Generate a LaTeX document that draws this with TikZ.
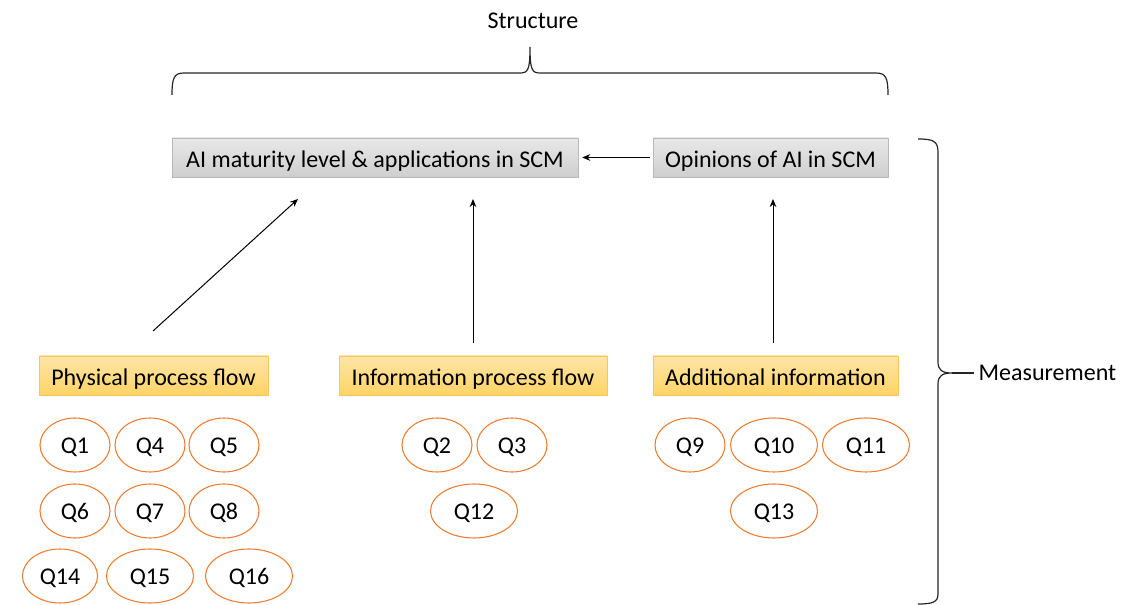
\documentclass[tikz,border=0pt]{standalone}
\usepackage{fontspec}
\setmainfont{Carlito}
\usetikzlibrary{shapes.geometric,arrows.meta}
\newcommand\pxu{0.75pt}
\definecolor{qorange}{HTML}{ED7D31}
\definecolor{boxtop}{HTML}{FFE5A6}
\definecolor{boxbot}{HTML}{FFD466}
\definecolor{boxline}{HTML}{F6C85A}
\tikzset{
  every node/.style={font=\fontsize{18}{21}\selectfont},
  greybox/.style={draw=gray!55, top color=gray!18, bottom color=gray!38,
    minimum height=39*\pxu, inner sep=0pt, text height=16pt, text depth=1pt},
  flowbox/.style={draw=boxline, top color=boxtop, bottom color=boxbot,
    minimum height=39*\pxu, inner sep=0pt, text height=16pt, text depth=1pt},
  qnode/.style={ellipse, draw=qorange, line width=0.8pt, fill=white,
    minimum width=70*\pxu, minimum height=54*\pxu, inner sep=0pt,
    text height=14pt, text depth=1pt},
  qwide/.style={qnode, minimum width=87*\pxu},
  link/.style={-{Stealth[length=6pt,width=5pt]}, line width=0.75pt},
  brace/.style={line width=0.9pt, black!85}
}
\begin{document}
\begin{tikzpicture}[x=0.75pt,y=-0.75pt]
\path[use as bounding box] (0,0) rectangle (1122,605);

% heading
\node (structure) at (533,21) {Structure};
\draw[brace] (172,95) .. controls (172,78) and (174,73) .. (184,73) -- (520,73)
  .. controls (528,73) and (530,70) .. (530,47)
  .. controls (530,70) and (532,73) .. (540,73) -- (876,73)
  .. controls (886,73) and (888,78) .. (888,95);

% constructs
\node[greybox, minimum width=406*\pxu] (maturity) at (375,157.5) {AI maturity level \& applications in SCM};
\node[greybox, minimum width=235*\pxu] (opinions) at (770.5,157.5) {Opinions of AI in SCM};

% flows
\node[flowbox, minimum width=229*\pxu] (physical) at (153.5,375.5) {Physical process flow};
\node[flowbox, minimum width=268*\pxu] (information) at (473,375.5) {Information process flow};
\node[flowbox, minimum width=245*\pxu] (additional) at (775.5,375.5) {Additional information};

% question items
\node[qnode] (q1) at (75,445) {Q1};
\node[qnode] (q4) at (150,445) {Q4};
\node[qnode] (q5) at (224,445) {Q5};
\node[qnode] (q6) at (75,511) {Q6};
\node[qnode] (q7) at (150,511) {Q7};
\node[qnode] (q8) at (224,511) {Q8};
\node[qwide, minimum width=75*\pxu] (q14) at (60,576) {Q14};
\node[qwide] (q15) at (150,576) {Q15};
\node[qwide] (q16) at (249,576) {Q16};

\node[qnode] (q2) at (437,445) {Q2};
\node[qnode] (q3) at (512,445) {Q3};
\node[qwide] (q12) at (474,511) {Q12};

\node[qnode] (q9) at (690,445) {Q9};
\node[qwide] (q10) at (774,445) {Q10};
\node[qwide] (q11) at (866,445) {Q11};
\node[qwide] (q13) at (774,511) {Q13};

% arrows
\coordinate (pstart) at (153,331);
\coordinate (pend) at (298,199);
\draw[link] (pstart) -- (pend);
\coordinate (istart) at (473,343);
\coordinate (iend) at (473,199);
\draw[link] (istart) -- (iend);
\coordinate (astart) at (773,343);
\coordinate (aend) at (773,199);
\draw[link] (astart) -- (aend);
\draw[link] ([xshift=-3*\pxu]opinions.west) -- ([xshift=4*\pxu]maturity.east);

% measurement brace
\coordinate (tip) at (952,373);
\draw[brace] (918,139) .. controls (933,139) and (938,141) .. (938,152) -- (938,362)
  .. controls (938,370) and (942,373) .. (tip)
  .. controls (942,373) and (938,376) .. (938,384) -- (938,594)
  .. controls (938,602) and (933,604) .. (918,604);
\node[anchor=west] (measurement) at (974,373) {Measurement};
\draw[brace] (tip) -- (measurement.west);
\end{tikzpicture}
\end{document}
